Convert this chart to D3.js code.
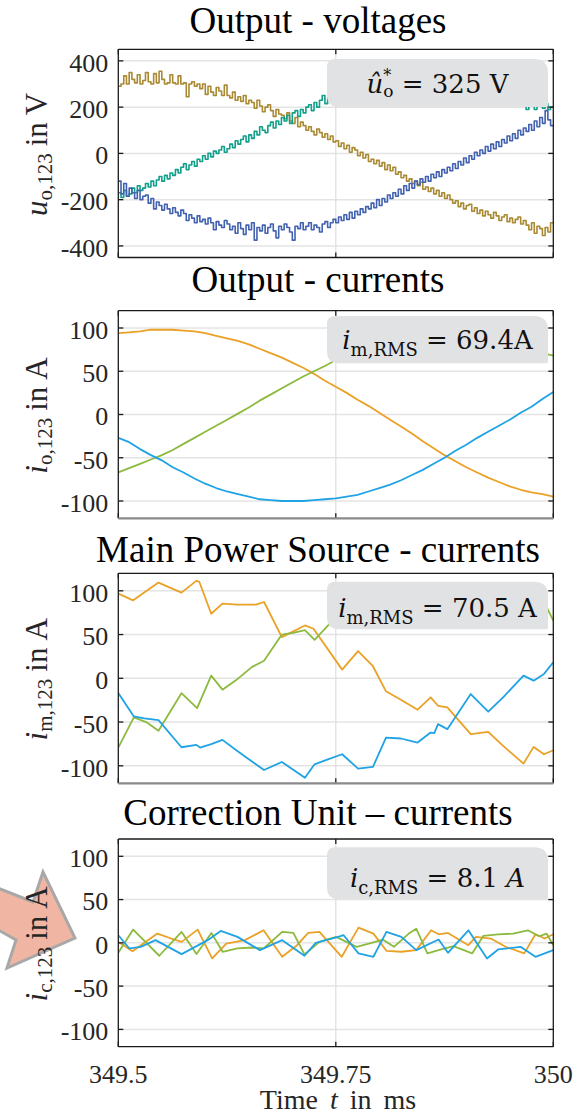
<!DOCTYPE html>
<html><head><meta charset="utf-8">
<script src="https://cdn.jsdelivr.net/npm/d3@7"></script>
<style>
body{margin:0;background:#fff}
.serif{font-family:"Liberation Serif","Times New Roman",Times,"DejaVu Serif",serif}
.math{font-family:"DejaVu Serif",serif}
</style>
</head><body><svg id="c" width="584" height="1114"></svg>
<script>
// ---------------- DATA ----------------
const timeStart = 349.5, timeEnd = 350;
const xTicks = [349.5, 349.75, 350];
const xTickLabels = ["349.5", "349.75", "350"];
const yTicksVolt = [-400, -200, 0, 200, 400];
const yTicksCur = [-100, -50, 0, 50, 100];
const titles = ["Output - voltages", "Output - currents", "Main Power Source - currents", "Correction Unit \u2013 currents"];

// Output voltages: staircase samples, one every voltStep ms
const voltStep = 0.003125;
const voltGold = [290,300,335,300,350,320,305,340,300,315, 350,310,300,345,305,355,320,300,305,340,
  305,300,335,300,305,245,300,310,290,300, 280,300,255,290,265,250,285,270,250,295,
  250,240,265,230,245,225,250,215,230,220, 195,230,205,180,200,210,185,160,190,170,
  165,150,175,140,130,155,115,135,120,100, 115,95,80,105,90,70,85,60,75,50,
  55,30,45,20,35,5,25,15,-10,5, -20,-5,-35,-25,-45,-30,-55,-40,-70,-50,
  -75,-60,-90,-80,-105,-95,-120,-110,-130,-120, -140,-125,-155,-145,-165,-150,-175,-160,-185,-170,
  -195,-180,-200,-215,-205,-230,-215,-240,-225,-220, -250,-235,-260,-245,-270,-250,-265,-280,-255,-270,
  -290,-275,-265,-295,-280,-300,-285,-275,-305,-290, -310,-330,-300,-345,-315,-325,-355,-320,-340,-300];
const voltTeal = [-170,-190,-160,-185,-175,-150,-170,-140,-160,-150, -130,-145,-120,-140,-115,-100,-120,-95,-110,-85,
  -95,-70,-85,-60,-45,-70,-50,-35,-55,-25, -35,-10,-25,0,-15,10,0,15,30,5,
  20,40,25,55,40,60,75,50,80,65, 95,80,115,100,90,120,135,110,140,125,
  155,140,165,130,175,185,160,190,175,200, 210,185,220,200,230,250,215,240,280,245,
  260,250,275,265,285,270,290,280,300,285, 295,310,300,315,305,320,310,325,315,330,
  320,310,330,320,335,315,325,330,320,310, 325,315,330,320,310,325,315,320,305,315,
  320,305,310,300,315,305,295,310,300,290, 300,285,295,280,290,275,285,270,280,265,
  270,260,275,255,265,245,255,240,245,230, 190,215,225,190,220,205,195,215,190,200];
const voltBlue = [-120,-175,-130,-185,-150,-170,-195,-160,-200,-185, -180,-215,-195,-240,-210,-225,-245,-220,-240,-260,
  -235,-255,-270,-245,-260,-290,-265,-280,-300,-270, -295,-285,-305,-280,-300,-330,-295,-310,-320,-290,
  -305,-330,-315,-345,-300,-325,-350,-310,-330,-300, -375,-320,-335,-310,-345,-320,-305,-335,-365,-315,
  -330,-305,-320,-340,-375,-315,-325,-300,-330,-315, -300,-330,-310,-320,-340,-305,-295,-320,-300,-285,
  -300,-275,-290,-265,-285,-255,-280,-250,-265,-240, -255,-230,-240,-215,-235,-200,-225,-195,-210,-180,
  -195,-170,-185,-155,-175,-140,-160,-130,-150,-120, -135,-110,-125,-100,-120,-90,-105,-80,-100,-70,
  -85,-60,-75,-45,-65,-35,-50,-20,-40,-10, -25,5,-10,15,0,30,10,40,20,50,
  30,60,45,75,55,85,65,100,80,110, 95,125,100,140,115,155,130,185,145,120];

// Output currents: one sample every outStep ms
const outStep = 0.0125;
const outOrange = [94,95,96,98,98,98,97,96,94,91,88,85,81,76,71,66,60,54,47,39,
  32,25,17,10,2,-6,-14,-22,-31,-39,-47,-54,-61,-67,-73,-78,-83,-87,-90,-92,-95];
const outGreen = [-67,-62,-57,-52,-47,-41,-34,-27,-20,-13,-6,1,8,16,23,30,37,44,50,56,
  63,69,75,81,86,90,94,97,99,100,100,99,97,94,91,87,83,78,74,71,68];
const outBlue = [-27,-32,-40,-47,-53,-61,-67,-74,-80,-85,-89,-92,-95,-98,-99,-100,-100,-100,-99,-98,
  -97,-95,-93,-89,-85,-81,-76,-70,-64,-57,-50,-42,-35,-27,-20,-13,-6,2,9,18,26];

// Main power source currents
const mainOrangeT = [349.5,349.5171,349.5462,349.5726,349.5897,349.5932,349.6068,349.6197,349.6368,349.6581,349.6675,349.688,349.7145,349.7244,349.7573,349.7756,349.7927,349.8077,349.8248,349.844,349.859,349.8675,349.8782,349.9051,349.9252,349.9423,349.9658,349.9774,349.9893,350];
const mainOrange  = [96.7,89.1,109.4,97.9,111.3,110.1,73.8,85.3,84.1,84.1,87.2,47.0,60.4,56.6,9.9,31.0,13.8,-14.9,-24.5,-35.9,-21.8,-31.4,-33.3,-63.9,-61.2,-77.2,-97.5,-78.4,-86.8,-82.2];
const mainGreenT = [349.5,349.5179,349.5321,349.5462,349.5726,349.5906,349.6068,349.6197,349.6368,349.6538,349.6675,349.688,349.7009,349.7145,349.7256,349.75,349.7735,349.7991,349.8248,349.8504,349.8761,349.9017,349.9274,349.953,349.9786,349.9915,350];
const mainGreen  = [-79.2,-44.7,-50.0,-60.0,-17.0,-34.0,3.0,-13.0,-1.0,13.0,20.0,50.0,52.0,55.0,44.0,70.0,78.0,82.0,94.0,100.0,100.0,105.0,90.0,96.0,84.0,83.0,66.0];
const mainBlueT = [349.5,349.5179,349.5299,349.5462,349.5726,349.5897,349.594,349.6068,349.6197,349.6368,349.6581,349.6675,349.688,349.7145,349.7256,349.7393,349.7573,349.7756,349.7927,349.8077,349.8248,349.844,349.859,349.8632,349.8675,349.8782,349.9051,349.9252,349.9423,349.9658,349.9774,349.9893,350];
const mainBlue  = [-16.8,-43.6,-45.9,-47.8,-78.8,-76.1,-79.2,-75.3,-70.4,-83.0,-98.3,-104.8,-95.6,-113.6,-98.3,-93.3,-86.8,-103.2,-101.3,-67.7,-68.8,-73.4,-62.0,-62.7,-52.4,-58.1,-18.0,-38.2,-21.8,3.1,-2.7,5.0,18.4];

// Correction unit currents
const corrOrangeT = [349.5,349.5163,349.5449,349.5608,349.5728,349.5912,349.6079,349.6241,349.6455,349.667,349.6884,349.7055,349.7183,349.7312,349.7568,349.7761,349.7932,349.8082,349.8253,349.8425,349.8596,349.8682,349.8789,349.9024,349.911,349.9281,349.9452,349.9666,349.9795,349.9902,350];
const corrOrange  = [1.1,-9.6,10.7,5.0,1.1,15.3,-18.0,-0.8,3.1,14.5,-16.1,-2.7,11.5,12.6,-16.1,17.6,10.7,-9.2,-10.3,-8.4,14.5,9.9,11.5,-2.7,6.9,5.0,-4.6,-12.2,9.9,5.0,9.9];
const corrGreenT = [349.5,349.5171,349.5471,349.5728,349.5899,349.607,349.6199,349.637,349.6541,349.667,349.6884,349.7012,349.714,349.7312,349.7504,349.774,349.7911,349.8039,349.8168,349.8339,349.8425,349.8553,349.8682,349.8853,349.9067,349.9195,349.9366,349.9538,349.9709,349.9837,349.9923,350];
const corrGreen  = [-11.5,15.3,-14.9,12.6,-13.0,11.5,-10.3,-6.5,-5.4,-6.5,12.6,11.5,-13.4,1.1,6.9,-4.6,0,3.8,-4.6,10.7,16.4,-12.2,-8.4,-3.8,-12.2,8.0,9.9,10.7,14.5,7.6,10.7,-2.7];
const corrBlueT = [349.5,349.5128,349.5257,349.5428,349.5728,349.5899,349.6027,349.6177,349.637,349.6627,349.6884,349.714,349.7269,349.7526,349.759,349.7761,349.7932,349.8082,349.8253,349.8425,349.8682,349.8789,349.9024,349.9238,349.9366,349.9623,349.9795,350];
const corrBlue  = [8.8,-6.5,-4.6,3.1,-13.0,-3.8,3.1,13.8,6.9,-8.4,3.1,-14.9,0,6.9,8.8,-12.2,-16.1,12.6,6.9,-8.4,3.8,-11.5,14.5,-18.0,-7.6,-4.6,-16.1,-8.4];

// ---------------- STYLE / LAYOUT ----------------
const C = {gold:"#A98A32", teal:"#12A08A", vblue:"#4262B0", orange:"#EAA126", green:"#8CBA3E", cblue:"#20A3E5"};
const X0 = 118.3, X1 = 553.3;
const x = d3.scaleLinear().domain([timeStart, timeEnd]).range([X0, X1]);

function stepPts(vals, dt){ const p = vals.map((v,i)=>[timeStart+i*dt, v]); p.push([timeEnd, vals[vals.length-1]]); return p; }
function regPts(vals, dt){ return vals.map((v,i)=>[timeStart+i*dt, v]); }
function zipPts(ts, vs){ return ts.map((t,i)=>[t, vs[i]]); }

const panels = [
  {top:49.3, bottom:257.5, domain:[-450,450], ticks:yTicksVolt, titleY:32.5, sym:"u", sub:"o,123", unit:"V",
   box:{y:59, h:48, base:93.3}, text:[{t:"\u00fb",it:1,fs:26},{t:"*",fs:16,dy:-12},{t:"o",fs:17,dx:-8,dy:16},{t:" = 325 V",fs:26,dy:-4}],
   step:true, lw:1.6,
   series:[[stepPts(voltGold,voltStep),C.gold],[stepPts(voltTeal,voltStep),C.teal],[stepPts(voltBlue,voltStep),C.vblue]], bcol:"#1a1a1a"},
  {top:310.7, bottom:518.3, domain:[-120,120], ticks:yTicksCur, titleY:291.7, sym:"i", sub:"o,123", unit:"A",
   box:{y:316, h:47.3, base:349.3}, text:[{t:"i",it:1,fs:26},{t:"m,RMS",fs:18,dy:7},{t:" = 69.4A",fs:26,dy:-7}],
   lw:1.8, series:[[regPts(outOrange,outStep),C.orange],[regPts(outGreen,outStep),C.green],[regPts(outBlue,outStep),C.cblue]], bcol:"#8a8a8a"},
  {top:573.3, bottom:783.3, domain:[-120,120], ticks:yTicksCur, titleY:561.7, sym:"i", sub:"m,123", unit:"A",
   box:{y:581.7, h:47.6, base:617.3}, text:[{t:"i",it:1,fs:26},{t:"m,RMS",fs:18,dy:7},{t:" = 70.5 A",fs:26,dy:-7}],
   lw:1.8, series:[[zipPts(mainOrangeT,mainOrange),C.orange],[zipPts(mainGreenT,mainGreen),C.green],[zipPts(mainBlueT,mainBlue),C.cblue]], bcol:"#8a8a8a"},
  {top:839, bottom:1046.7, domain:[-120,120], ticks:yTicksCur, titleY:825, sym:"i", sub:"c,123", unit:"A",
   box:{y:847.3, h:52, base:886.7}, text:[{t:"i",it:1,fs:26},{t:"c,RMS",fs:18,dy:7},{t:" = 8.1 ",fs:26,dy:-7},{t:"A",it:1,fs:26}],
   lw:1.8, series:[[zipPts(corrOrangeT,corrOrange),C.orange],[zipPts(corrGreenT,corrGreen),C.green],[zipPts(corrBlueT,corrBlue),C.cblue]], bcol:"#1a1a1a", xaxis:true, arrow:true}
];

const svg = d3.select("#c");
svg.append("rect").attr("width",584).attr("height",1114).attr("fill","#fff");

function boxPath(x0,y0,w,h){
  const tl=8,tr=14,br=2,bl=12;
  return `M${x0+tl},${y0} H${x0+w-tr} Q${x0+w},${y0} ${x0+w},${y0+tr} V${y0+h-br} Q${x0+w},${y0+h} ${x0+w-br},${y0+h} H${x0+bl} Q${x0},${y0+h} ${x0},${y0+h-bl} V${y0+tl} Q${x0},${y0} ${x0+tl},${y0} Z`;
}

panels.forEach((p, pi) => {
  const y = d3.scaleLinear().domain(p.domain).range([p.bottom, p.top]);
  const g = svg.append("g");
  g.append("text").attr("class","serif").attr("x",318).attr("y",p.titleY).attr("text-anchor","middle")
    .attr("font-size",37).attr("fill","#000").text(titles[pi]);
  if (p.arrow) {
    const pts = [[-12,884],[33,902],[43,872],[75,938],[7,968],[16,940],[-12,924]];
    g.append("polygon").attr("points", pts.map(d=>d.join(",")).join(" "))
      .attr("fill","#F1B6A3").attr("stroke","#A8A8A8").attr("stroke-width",3).attr("stroke-linejoin","miter");
  }
  const grid = g.append("g");
  grid.selectAll("line.h").data(p.ticks).join("line")
    .attr("x1",X0).attr("x2",X1).attr("y1",d=>y(d)).attr("y2",d=>y(d))
    .attr("stroke","#e4e4e4").attr("stroke-width",1.5);
  grid.append("line").attr("x1",x(xTicks[1])).attr("x2",x(xTicks[1])).attr("y1",p.top).attr("y2",p.bottom)
    .attr("stroke","#dedede").attr("stroke-width",1.2);
  const cid = "clip"+pi;
  svg.append("clipPath").attr("id",cid).append("rect").attr("x",X0).attr("y",p.top).attr("width",X1-X0).attr("height",p.bottom-p.top);
  const line = d3.line().x(d=>x(d[0])).y(d=>y(d[1])).curve(p.step ? d3.curveStepAfter : d3.curveLinear);
  const lg = g.append("g").attr("clip-path",`url(#${cid})`);
  p.series.forEach(([pts,col]) => {
    lg.append("path").attr("d",line(pts)).attr("fill","none").attr("stroke",col)
      .attr("stroke-width",p.lw).attr("stroke-linejoin","round");
  });
  g.append("path").attr("d",boxPath(327,p.box.y,221,p.box.h)).attr("fill","#E1E2E4");
  const t = g.append("text").attr("class","math").attr("x",437.5).attr("y",p.box.base).attr("text-anchor","middle")
    .attr("fill","#111");
  p.text.forEach(s => {
    const ts = t.append("tspan").attr("font-size",s.fs).text(s.t);
    if (s.it) ts.attr("font-style","italic");
    if (s.dx) ts.attr("dx",s.dx);
    if (s.dy) ts.attr("dy",s.dy);
  });
  g.selectAll("text.yt").data(p.ticks).join("text").attr("class","serif")
    .attr("x",108.3).attr("y",d=>y(d)+10.8).attr("text-anchor","end")
    .attr("font-size",26).attr("fill","#262626").text(d=>String(d));
  const fr = g.append("g").attr("stroke","#1a1a1a").attr("stroke-width",1.3).attr("fill","none");
  fr.append("line").attr("x1",X0).attr("x2",X1).attr("y1",p.top).attr("y2",p.top);
  fr.append("line").attr("x1",X0).attr("x2",X0).attr("y1",p.top).attr("y2",p.bottom);
  fr.append("line").attr("x1",X1).attr("x2",X1).attr("y1",p.top).attr("y2",p.bottom);
  g.append("line").attr("x1",X0).attr("x2",X1).attr("y1",p.bottom).attr("y2",p.bottom)
    .attr("stroke",p.bcol).attr("stroke-width",p.bcol==="#1a1a1a"?1.3:2.2);
  p.ticks.forEach(v => {
    fr.append("line").attr("x1",X0).attr("x2",X0+5).attr("y1",y(v)).attr("y2",y(v));
    fr.append("line").attr("x1",X1-5).attr("x2",X1).attr("y1",y(v)).attr("y2",y(v));
  });
  xTicks.forEach(v => {
    fr.append("line").attr("x1",x(v)).attr("x2",x(v)).attr("y1",p.top).attr("y2",p.top+5);
    fr.append("line").attr("x1",x(v)).attr("x2",x(v)).attr("y1",p.bottom-5).attr("y2",p.bottom);
  });
  const cy = (p.top+p.bottom)/2 + 1;
  const yl = g.append("text").attr("class","serif").attr("transform",`translate(47,${cy}) rotate(-90)`).attr("text-anchor","middle")
    .attr("font-size",31).attr("fill","#262626");
  yl.append("tspan").attr("font-style","italic").text(p.sym);
  yl.append("tspan").attr("font-size",21).attr("dy",5).text(p.sub);
  yl.append("tspan").attr("dy",-5).attr("dx",7).text("in");
  yl.append("tspan").attr("dx",7).text(p.unit);
  if (p.xaxis) {
    g.selectAll("text.xt").data(xTicks).join("text").attr("class","serif")
      .attr("x",d=>x(d)).attr("y",1083).attr("text-anchor","middle")
      .attr("font-size",26).attr("fill","#262626").text((d,i)=>xTickLabels[i]);
    const xl = g.append("text").attr("class","serif").attr("x",338).attr("y",1109).attr("text-anchor","middle")
      .attr("font-size",28).attr("fill","#262626").attr("word-spacing",5);
    xl.append("tspan").text("Time ");
    xl.append("tspan").attr("font-style","italic").text("t");
    xl.append("tspan").text(" in ms");
  }
});
</script>
</body></html>
